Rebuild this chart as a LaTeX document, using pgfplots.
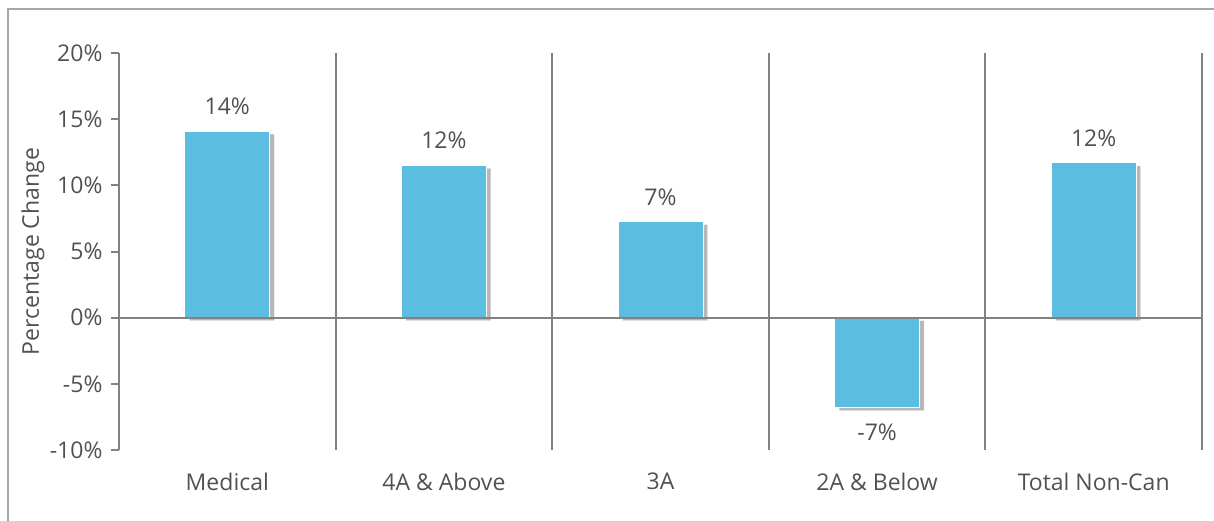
\documentclass[border=0pt]{standalone}
\usepackage{fontspec}
\setmainfont{Open Sans}
\usepackage{pgfplots}
\pgfplotsset{compat=1.18}
\usetikzlibrary{shadows}
\definecolor{barblue}{RGB}{91,189,224}
\definecolor{txt}{RGB}{78,82,85}
\definecolor{gridc}{RGB}{130,130,130}
\definecolor{framec}{RGB}{165,168,170}
\begin{document}
\begin{tikzpicture}
\begin{axis}[
  scale only axis, width=1083pt, height=397pt,
  xmin=-0.5, xmax=4.5, ymin=-10, ymax=20,
  axis y line*=left, axis x line*=bottom,
  x axis line style={draw=none},
  y axis line style={gridc, line width=2pt},
  ytick={-10,-5,0,5,10,15,20},
  yticklabels={-10\%,-5\%,0\%,5\%,10\%,15\%,20\%},
  tick align=outside,
  major tick length=8pt,
  ytick style={gridc, line width=2pt},
  xtick={0,1,2,3,4},
  xticklabels={Medical,4A \& Above,3A,2A \& Below,Total Non-Can},
  major x tick style={draw=none},
  minor xtick={0.5,1.5,2.5,3.5,4.5},
  minor x tick style={draw=none},
  xminorgrids=true,
  minor grid style={gridc, line width=2pt},
  tick label style={font=\fontsize{23}{27}\selectfont, text=txt},
  xticklabel style={yshift=-11pt},
  yticklabel style={xshift=-5pt},
  ylabel={Percentage Change},
  every axis y label/.style={at={(axis description cs:-0.0794,0.5)}, rotate=90, anchor=center, font=\fontsize{23}{27}\selectfont, text=txt},
  ybar, bar width=85pt,
  point meta=explicit symbolic,
  visualization depends on={y \as \rawy},
  nodes near coords,
  every node near coord/.append style={font=\fontsize{23}{27}\selectfont, text=txt, inner sep=16pt,
     anchor={\ifdim \rawy pt<0pt north\else south\fi}},
  clip=false,
]
\addplot[fill=barblue, draw=white, line width=1pt,
  drop shadow={shadow xshift=4.5pt, shadow yshift=-3pt, opacity=0.28, fill=black}]
  coordinates {(0,14.1) [14\%] (1,11.5) [12\%] (2,7.25) [7\%] (3,-6.8) [-7\%] (4,11.7) [12\%]};
\draw[gridc, line width=2pt] (axis cs:-0.5,0) -- (axis cs:4.5,0);
\end{axis}
\draw[framec, line width=2.5pt] (-111pt,441pt) rectangle (1105pt,-85pt);
\pgfresetboundingbox
\path[use as bounding box] (-119pt,-70pt) rectangle (1095pt,450pt);
\end{tikzpicture}
\end{document}
